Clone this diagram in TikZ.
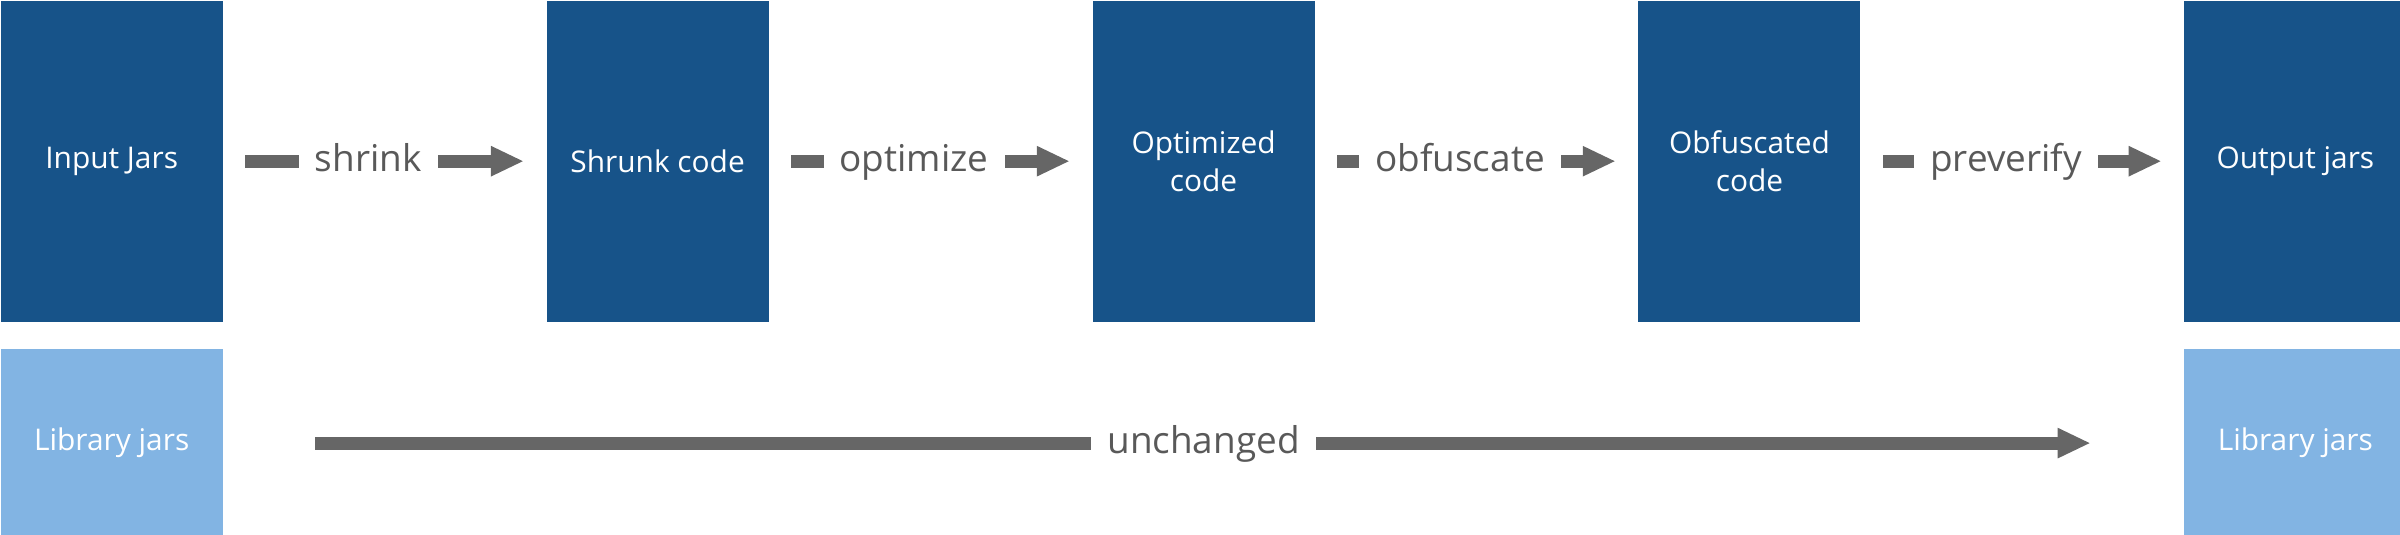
\documentclass[tikz,border=0pt]{standalone}
\usepackage{fontspec}
\setmainfont{Open Sans}
\usetikzlibrary{positioning}
\usetikzlibrary{arrows.meta}
\definecolor{jarblue}{HTML}{175389}
\definecolor{libblue}{HTML}{82B4E3}
\definecolor{flowgray}{HTML}{666666}
\definecolor{labelgray}{HTML}{595959}
\tikzset{basic/.style={inner sep=0pt,text=white,align=center,minimum width=2.22cm,font=\fontsize{8.5}{11}\selectfont}}
\tikzset{stage/.style={basic,fill=jarblue,minimum height=3.21cm}}
\tikzset{library/.style={basic,fill=libblue,minimum height=1.88cm}}
\tikzset{flow/.style={draw=flowgray,line width=0.13cm,-{Triangle[length=0.33cm,width=0.28cm]},shorten <=0.22cm,shorten >=0.22cm}}
\tikzset{steplabel/.style={fill=white,text=labelgray,font=\fontsize{10.5}{12}\selectfont,inner xsep=0.16cm,inner ysep=0pt,text height=0.29cm,text depth=0.08cm}}
\tikzset{toplabel/.style={steplabel,xshift=-0.165cm}}

\begin{document}
\begin{tikzpicture}
                \useasboundingbox (0,0) rectangle (24,5.35);
                \node[stage,anchor=north west] (input) at (0,5.35) {Input Jars};
                \node[stage,right=3.225cm of input] (shrunk) {Shrunk code};
                \node[stage,right=3.225cm of shrunk] (optimized) {Optimized\\code};
                \node[stage,right=3.225cm of optimized] (obfuscated) {Obfuscated\\code};
                \node[stage,right=3.225cm of obfuscated] (output) {Output jars};
                \node[library,below=0.26cm of input] (libin) {Library jars};
                \node[library,below=0.26cm of output] (libout) {Library jars};
                    \path[flow] (input) -- node[toplabel] (l1) {shrink} (shrunk);
                    \path[flow] (shrunk) -- node[toplabel] (l2) {optimize} (optimized);
                    \path[flow] (optimized) -- node[toplabel] (l3) {obfuscate} (obfuscated);
                    \path[flow] (obfuscated) -- node[toplabel] (l4) {preverify} (output);
                    \path[flow,shorten <=0.92cm,shorten >=0.93cm] (libin) -- node[steplabel] (l5) {unchanged} (libout);
            \end{tikzpicture}
\end{document}
